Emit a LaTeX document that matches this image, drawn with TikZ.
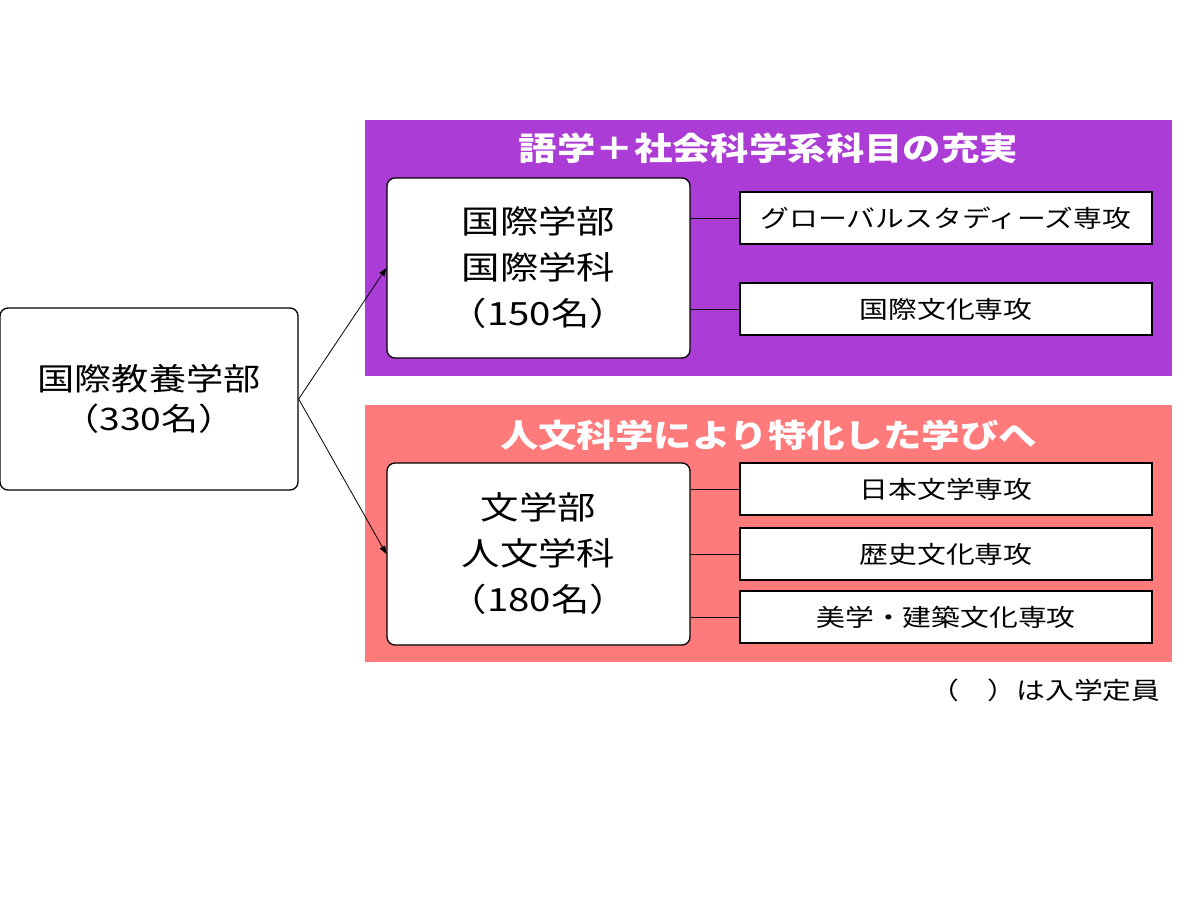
\documentclass[tikz,border=0pt]{standalone}
\usepackage{fontspec}
\setmainfont[FakeStretch=1.2]{Noto Sans CJK JP}
\usetikzlibrary{arrows.meta}
\definecolor{purp}{RGB}{172,60,214}
\definecolor{pink}{RGB}{255,122,122}
\begin{document}
\begin{tikzpicture}[x=1pt,y=-1pt,
  rbox/.style={draw=black,line width=1.3pt,fill=white,rounded corners=8pt,align=center,font=\fontsize{31}{40}\selectfont},
  sbox/.style={draw=black,line width=1.3pt,fill=white,font=\fontsize{24}{28}\selectfont},
  ttl/.style={text=white,font=\fontsize{32}{36}\selectfont\bfseries},
  ln/.style={line width=0.8pt},
  ar/.style={line width=0.8pt,-{Triangle[length=8pt,width=6pt]}}]
\useasboundingbox (0,0) rectangle (1200,900);
\fill[purp] (365,120) rectangle (1172,376);
\fill[pink] (365,405) rectangle (1172,662);
\node[ttl] (t1) at (768.5,148) {語学＋社会科学系科目の充実};
\node[ttl] (t2) at (768.5,435) {人文科学により特化した学びへ};
\node[rbox,minimum width=298pt,minimum height=182pt] (L) at (149,399) {国際教養学部\\（330名）};
\node[rbox,minimum width=303pt,minimum height=180pt,font=\fontsize{32}{46}\selectfont] (A) at (538.5,268) {国際学部\\国際学科\\（150名）};
\node[rbox,minimum width=303pt,minimum height=182pt,font=\fontsize{32}{46}\selectfont] (B) at (538.5,554) {文学部\\人文学科\\（180名）};
\node[sbox,minimum width=412pt,minimum height=52pt] (a1) at (946,218) {グローバルスタディーズ専攻};
\node[sbox,minimum width=412pt,minimum height=52pt] (a2) at (946,309) {国際文化専攻};
\node[sbox,minimum width=412pt,minimum height=52pt] (b1) at (946,489) {日本文学専攻};
\node[sbox,minimum width=412pt,minimum height=52pt] (b2) at (946,554) {歴史文化専攻};
\node[sbox,minimum width=412pt,minimum height=52pt] (b3) at (946,617) {美学・建築文化専攻};
\draw[ln] (A.east |- a1) -- (a1.west);
\draw[ln] (A.east |- a2) -- (a2.west);
\draw[ln] (B.east |- b1) -- (b1.west);
\draw[ln] (B.east |- b2) -- (b2.west);
\draw[ln] (B.east |- b3) -- (b3.west);
\draw[ar] (L.east) -- (A.west);
\draw[ar] (L.east) -- (B.west);
\node[anchor=east,font=\fontsize{24}{28}\selectfont] (n) at (1164,690) {（　）は入学定員};
\end{tikzpicture}
\end{document}
